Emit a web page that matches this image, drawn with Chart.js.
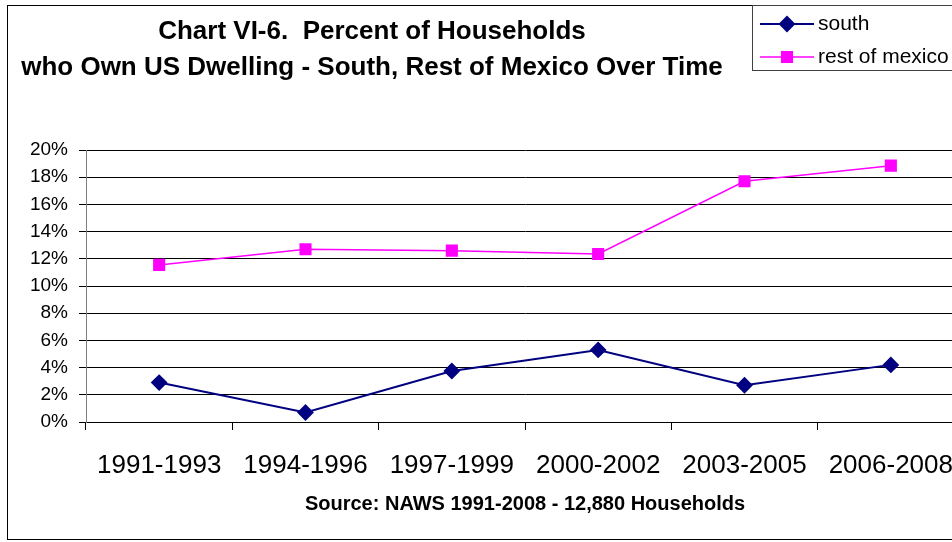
<!DOCTYPE html>
<html>
<head>
<meta charset="utf-8">
<script src="https://cdn.jsdelivr.net/npm/chart.js@4/dist/chart.umd.min.js"></script>
<style>
  body { margin: 0; background: #fff; }
  #wrap { width: 952px; height: 542px; overflow: hidden; }
</style>
</head>
<body>
<div id="wrap"><canvas id="myChart" width="990" height="542"></canvas></div>
<script>
// periods on the x axis
const periods = ['1991-1993', '1994-1996', '1997-1999', '2000-2002', '2003-2005', '2006-2008'];
// percent of households owning a US dwelling
const south = [2.9, 0.7, 3.75, 5.3, 2.7, 4.2];
const restOfMexico = [11.55, 12.7, 12.6, 12.35, 17.7, 18.85];

const titleLines = ['Chart VI-6.  Percent of Households', 'who Own US Dwelling - South, Rest of Mexico Over Time'];
const sourceText = 'Source: NAWS 1991-2008 - 12,880 Households';

const FONT = '"Liberation Sans", Arial, sans-serif';

// outer frame, title and legend box, drawn like the old spreadsheet chart
const decor = {
  id: 'decor',
  beforeDraw(chart) {
    const ctx = chart.ctx;
    ctx.save();
    ctx.strokeStyle = '#000';
    ctx.lineWidth = 1;
    ctx.strokeRect(7.5, 5.5, 1000, 534);
    ctx.restore();
  },
  afterDraw(chart) {
    const ctx = chart.ctx;
    ctx.save();
    // title
    ctx.fillStyle = '#000';
    ctx.font = 'bold 26px ' + FONT;
    ctx.textAlign = 'center';
    ctx.textBaseline = 'alphabetic';
    ctx.fillText(titleLines[0], 372, 39);
    ctx.fillText(titleLines[1], 372, 75);

    // legend
    ctx.strokeStyle = '#404040';
    ctx.lineWidth = 1;
    ctx.strokeRect(752.5, 5.5, 300, 65);
    const rows = [24, 57];
    chart.data.datasets.forEach((ds, i) => {
      const y = rows[i];
      ctx.strokeStyle = ds.borderColor;
      ctx.lineWidth = ds.borderWidth;
      ctx.beginPath();
      ctx.moveTo(760, y);
      ctx.lineTo(814, y);
      ctx.stroke();
      ctx.fillStyle = ds.pointBackgroundColor;
      ctx.strokeStyle = ds.pointBorderColor;
      Chart.helpers.drawPoint(ctx, {
        pointStyle: ds.pointStyle,
        radius: ds.pointRadius,
        borderWidth: 1,
        rotation: 0
      }, 787, y);
      ctx.fillStyle = '#000';
      ctx.font = '21px ' + FONT;
      ctx.textAlign = 'left';
      ctx.textBaseline = 'middle';
      ctx.fillText(ds.label, 818, y);
    });
    ctx.restore();
  }
};

const data = {
  labels: periods,
  datasets: [{
    label: 'south',
    data: south,
    borderColor: '#000080',
    backgroundColor: '#000080',
    pointBackgroundColor: '#000080',
    pointBorderColor: '#000080',
    pointStyle: 'rectRot',
    pointRadius: 7,
    borderWidth: 2,
    fill: false,
    tension: 0
  }, {
    label: 'rest of mexico',
    data: restOfMexico,
    borderColor: '#ff00ff',
    backgroundColor: '#ff00ff',
    pointBackgroundColor: '#ff00ff',
    pointBorderColor: '#ff00ff',
    pointStyle: 'rect',
    pointRadius: 7.5,
    borderWidth: 1.5,
    fill: false,
    tension: 0
  }]
};

const config = {
  type: 'line',
  data: data,
  plugins: [decor],
  options: {
    responsive: false,
    animation: false,
    layout: { padding: { top: 150, right: 26, left: 0, bottom: 0 } },
    plugins: {
      legend: { display: false },
      title: { display: false },
      tooltip: { enabled: false }
    },
    scales: {
      x: {
        offset: true,
        grid: { drawOnChartArea: false, drawTicks: true, tickLength: 8, color: '#000', offset: true },
        border: { color: '#000', width: 1 },
        ticks: { color: '#000', font: { family: FONT, size: 26 }, padding: 20, maxRotation: 0, autoSkip: false },
        title: {
          display: true,
          text: sourceText,
          color: '#000',
          font: { family: FONT, size: 20, weight: 'bold' },
          padding: { top: 4, bottom: 26 }
        },
        afterFit(scale) { scale.height = 120; }
      },
      y: {
        min: 0,
        max: 20,
        ticks: {
          stepSize: 2,
          color: '#000',
          font: { family: FONT, size: 19 },
          padding: 11,
          callback: v => v + '%'
        },
        grid: { color: '#000', lineWidth: 1, tickLength: 7 },
        border: { color: '#808080', width: 1 },
        afterFit(scale) { scale.width = 86; }
      }
    }
  }
};

let lineChart = new Chart(document.getElementById('myChart').getContext('2d'), config);
</script>
</body>
</html>
